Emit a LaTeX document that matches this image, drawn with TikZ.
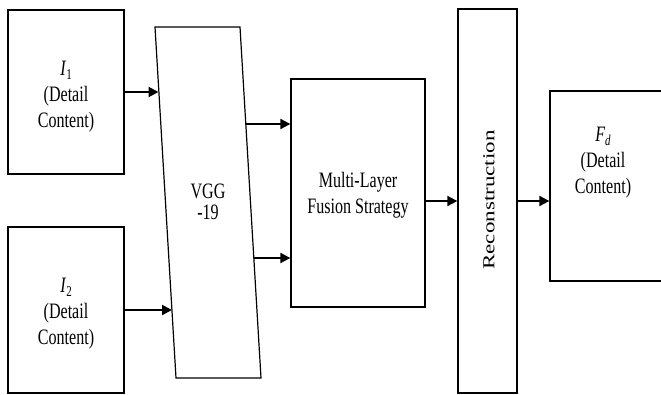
\documentclass[tikz,border=0pt]{standalone}
\usepackage{fontspec}
\setmainfont{Liberation Serif}
\newfontfamily\tnr[FakeStretch=0.73]{Liberation Serif}
\usetikzlibrary{arrows.meta}
\newcommand{\mysub}[1]{\raisebox{-4pt}{\fontsize{15}{15}\selectfont #1}}
\begin{document}
\begin{tikzpicture}[x=1pt,y=-1pt,
  box/.style={draw, line width=1.3pt, inner sep=0pt},
  lbl/.style={font=\tnr\fontsize{22}{26}\selectfont, align=center, inner sep=0pt},
  arr/.style={line width=2pt, -{Triangle[length=10pt,width=10pt]}}]
\useasboundingbox (0,0) rectangle (661,394);
\clip (0,0) rectangle (661,394);
% boxes
\node[box, minimum width=116, minimum height=164] (I1) at (66,92) {};
\node[box, minimum width=116, minimum height=166] (I2) at (66,310) {};
\coordinate (vtl) at (155,27);
\coordinate (vtr) at (240,27);
\coordinate (vbr) at (261,378);
\coordinate (vbl) at (176,378);
\draw[line width=1.2pt] (vtl) -- (vtr) -- (vbr) -- (vbl) -- cycle;
\node[box, minimum width=134, minimum height=228] (mlf) at (358,193) {};
\node[box, minimum width=59, minimum height=384] (rec) at (487.5,201) {};
\node[box, minimum width=118, minimum height=190] (fd) at (609,186) {};
% texts
\node[lbl] (t1) at (66,97) {\textit{I}\mysub{1}\\(Detail\\Content)};
\node[lbl] (t2) at (66,314) {\textit{I}\mysub{2}\\(Detail\\Content)};
\node[lbl, font=\tnr\fontsize{22}{21}\selectfont] (tv) at (208,202) {VGG\\-19};
\node[lbl] (tm) at (358,195) {Multi-Layer\\Fusion Strategy};
\node[inner sep=0pt] (tr) at (489,200) {\scalebox{0.73}[1]{\rotatebox{90}{\fontsize{23}{23}\selectfont Reconstruction}}};
\node[lbl] (tf) at (603,163) {\textit{F}\mysub{\textit{d}}\\(Detail\\Content)};
% connector end points on the slanted VGG block
\coordinate (vin1) at (158.5,92);
\coordinate (vin2) at (172,310);
\coordinate (vout1) at (246,124);
\coordinate (vout2) at (254,258);
% connectors
\draw[arr] (I1.east) -- (vin1);
\draw[arr] (I2.east) -- (vin2);
\draw[arr] (vout1) -- (vout1 -| mlf.west);
\draw[arr] (vout2) -- (vout2 -| mlf.west);
\draw[arr] (mlf.east |- rec.center) -- (rec.west);
\draw[arr] (rec.east) -- (rec.east -| fd.west);
\end{tikzpicture}
\end{document}
